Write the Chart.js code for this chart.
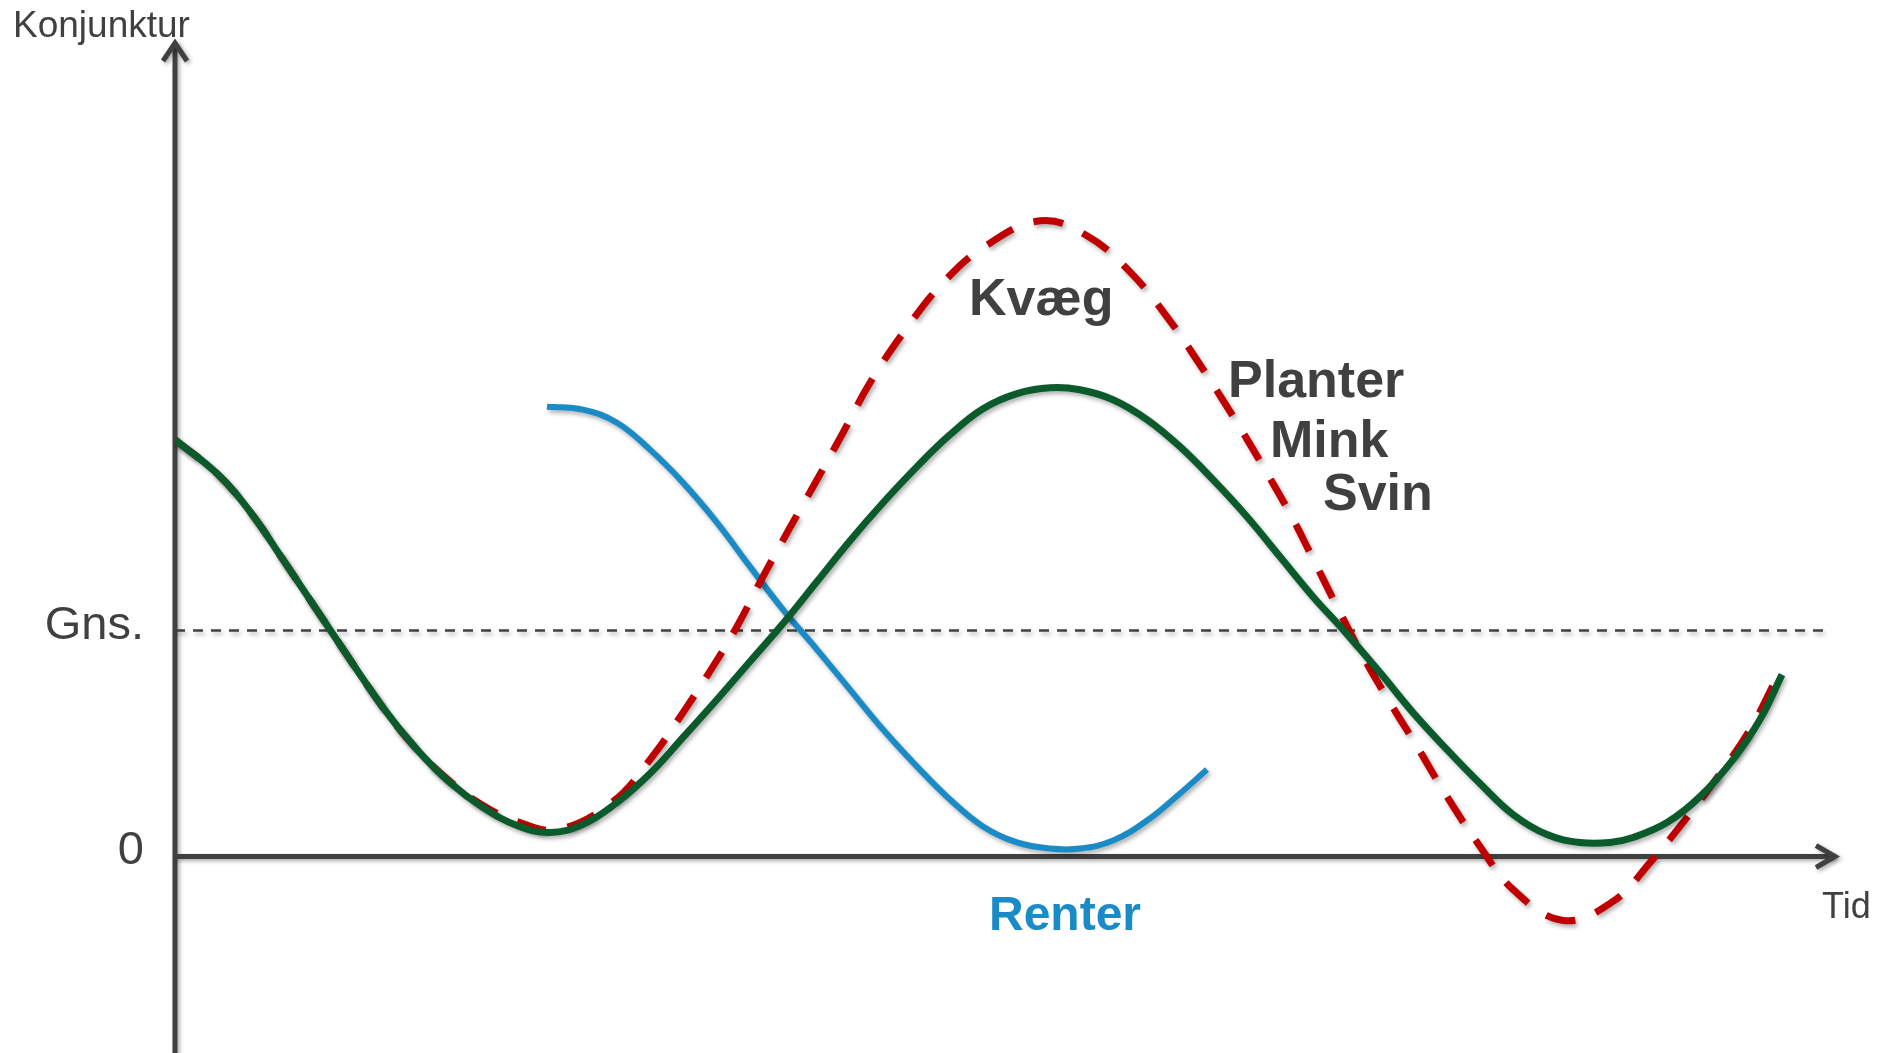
<!DOCTYPE html>
<html lang="da">
<head>
<meta charset="utf-8">
<title>Konjunktur</title>
<script src="https://cdn.jsdelivr.net/npm/chart.js@4/dist/chart.umd.min.js"></script>
<style>
  html, body { margin: 0; padding: 0; background: #ffffff; }
  canvas { display: block; }
</style>
</head>
<body>
<canvas id="chart" width="1881" height="1053"></canvas>
<script>
// Tid (x) og konjunktur (y); "Gns." ligger på 100, nul på 0.
const planterTid = [0, 4.2, 7.5, 10.8, 15.5, 20.8, 24.2, 27.5, 30.8, 34.2, 37.5, 40.8, 44.2, 47.5, 50.8, 54.2, 57.5, 60.8, 64.2, 67.5, 70.8, 74.2, 77.5, 80.8, 84.2, 87.5, 90.5, 93.8, 97.2, 100.5, 103.8, 107.2, 110.5, 113.8, 116.8, 120.5, 123.8, 127.2, 130.5, 133.8, 137.2, 140.5, 143.5, 145.8, 149.2, 152.5, 155.8, 158.5, 160.7];
const planterNiveau = [184.5, 169.5, 152.7, 131.4, 100.4, 65.9, 47.3, 32.7, 21.7, 13.7, 10.6, 14.2, 23.9, 36.7, 52.7, 69.5, 86.3, 103.1, 121.7, 139.8, 156.6, 172.6, 186.7, 198.2, 204.9, 207.5, 206.6, 202.2, 193.4, 181.4, 166.8, 150.4, 132.7, 115.0, 100.4, 81.4, 63.7, 47.3, 32.3, 18.6, 9.7, 6.2, 6.2, 8.4, 15.0, 26.5, 42.9, 60.6, 80.5];

const kvaegTid = [0, 4.2, 7.5, 10.8, 15.5, 20.8, 24.2, 27.5, 30.8, 34.2, 38.2, 43.8, 47.5, 50.8, 53.8, 56.2, 58.8, 61.5, 64.2, 66.8, 69.5, 73.2, 76.8, 80.8, 86.5, 91.2, 95.5, 99.2, 102.5, 106.2, 109.0, 111.5, 113.5, 116.2, 118.8, 121.5, 124.2, 127.2, 130.5, 133.8, 138.8, 143.8, 147.5, 151.2, 154.5, 157.5, 160.5];
const kvaegNiveau = [184.5, 169.5, 152.7, 131.4, 100.4, 65.9, 47.3, 33.2, 22.6, 15.5, 11.9, 24.3, 42.9, 63.7, 84.1, 101.8, 123.9, 145.6, 166.8, 187.6, 209.7, 234.1, 254.0, 269.5, 281.4, 274.8, 258.8, 238.9, 217.7, 192.0, 171.2, 151.8, 134.5, 110.6, 88.5, 68.1, 48.7, 26.5, 4.4, -14.6, -28.3, -19.9, -2.7, 17.3, 36.7, 56.2, 81.9];

const renterTid = [37.2, 40.8, 44.2, 47.5, 50.8, 54.2, 57.5, 60.8, 64.2, 67.5, 70.8, 74.2, 77.5, 80.8, 84.2, 87.5, 90.5, 93.8, 97.2, 100.5, 103.2];
const renterNiveau = [199.1, 197.8, 192.0, 180.1, 165.5, 147.8, 128.3, 109.3, 91.6, 73.9, 56.2, 39.8, 25.2, 13.3, 6.2, 3.5, 3.5, 7.1, 15.9, 27.9, 38.5];

const gnsTid = [0, 164.9];
const gnsNiveau = [100, 100];

const yTickValues = [0, 100];
const yTickLabels = ['0', 'Gns.'];

const zip = (xs, ys) => xs.map((x, i) => ({ x: x, y: ys[i] }));

const FONT = "'Liberation Sans', Arial, Helvetica, sans-serif";
const INK = '#404040';

// Akser med pile, aksetitler og kurvenavne
const decorations = {
  id: 'decorations',
  beforeDatasetsDraw(chart) {
    const { ctx, chartArea, scales } = chart;
    const x0 = scales.x.getPixelForValue(0);
    const y0 = scales.y.getPixelForValue(0);
    const top = chartArea.top;
    const right = chartArea.right;
    ctx.save();
    ctx.strokeStyle = INK;
    ctx.lineWidth = 5;
    ctx.lineJoin = 'miter';
    ctx.lineCap = 'butt';
    ctx.shadowColor = 'rgba(0,0,0,0.35)';
    ctx.shadowBlur = 4;
    ctx.shadowOffsetX = 2;
    ctx.shadowOffsetY = 2;
    // lodret akse
    ctx.beginPath();
    ctx.moveTo(x0, chart.height + 5);
    ctx.lineTo(x0, top + 3);
    ctx.stroke();
    ctx.beginPath();
    ctx.moveTo(x0 - 12, top + 20);
    ctx.lineTo(x0, top + 2);
    ctx.lineTo(x0 + 12, top + 20);
    ctx.stroke();
    // vandret akse
    ctx.beginPath();
    ctx.moveTo(x0, y0);
    ctx.lineTo(right - 3, y0);
    ctx.stroke();
    ctx.beginPath();
    ctx.moveTo(right - 21, y0 - 11);
    ctx.lineTo(right - 2, y0);
    ctx.lineTo(right - 21, y0 + 11);
    ctx.stroke();
    ctx.restore();
  },
  afterDatasetsDraw(chart) {
    const { ctx, chartArea, scales } = chart;
    const px = v => scales.x.getPixelForValue(v);
    const py = v => scales.y.getPixelForValue(v);
    ctx.save();
    ctx.textAlign = 'left';
    ctx.textBaseline = 'alphabetic';
    ctx.fillStyle = INK;
    ctx.font = '37px ' + FONT;
    ctx.fillText('Konjunktur', px(0) - 162, chartArea.top - 4);
    ctx.font = '36px ' + FONT;
    ctx.fillText('Tid', chartArea.right - 15, py(0) + 62);

    ctx.font = 'bold 52px ' + FONT;
    ctx.fillText('Kvæg', px(79.4), py(239.8));
    ctx.fillText('Planter', px(105.3), py(203.5));
    ctx.fillText('Mink', px(109.5), py(177.0));
    ctx.fillText('Svin', px(114.8), py(153.5));

    ctx.fillStyle = '#1a8bc7';
    ctx.font = 'bold 48px ' + FONT;
    ctx.fillText('Renter', px(81.4), py(-32.7));
    ctx.restore();
  },
  beforeDatasetDraw(chart, args) {
    const ds = chart.data.datasets[args.index];
    chart.ctx.save();
    if (ds.shadow) {
      chart.ctx.shadowColor = 'rgba(0,0,0,0.3)';
      chart.ctx.shadowBlur = 4;
      chart.ctx.shadowOffsetX = 2;
      chart.ctx.shadowOffsetY = 3;
    }
  },
  afterDatasetDraw(chart) {
    chart.ctx.restore();
  }
};

new Chart(document.getElementById('chart'), {
  type: 'line',
  data: {
    datasets: [
      {
        label: 'Planter, Mink, Svin',
        data: zip(planterTid, planterNiveau),
        borderColor: '#0b5a2c',
        borderWidth: 7,
        shadow: true
      },
      {
        label: 'Kvæg',
        data: zip(kvaegTid, kvaegNiveau),
        borderColor: '#c00000',
        borderWidth: 7,
        borderDash: [30, 22],
        borderCapStyle: 'butt',
        shadow: true
      },
      {
        label: 'Renter',
        data: zip(renterTid, renterNiveau),
        borderColor: '#1a8bc7',
        borderWidth: 6,
        shadow: true
      },
      {
        label: 'Gns.',
        data: zip(gnsTid, gnsNiveau),
        borderColor: INK,
        borderWidth: 2.5,
        borderDash: [10, 8],
        tension: 0,
        shadow: true
      }
    ]
  },
  options: {
    responsive: false,
    devicePixelRatio: 1,
    animation: false,
    layout: { padding: { left: 0, top: 41, right: 44, bottom: 0 } },
    elements: {
      point: { radius: 0, hoverRadius: 0 },
      line: { tension: 0.4, fill: false }
    },
    plugins: {
      legend: { display: false },
      tooltip: { enabled: false }
    },
    events: [],
    scales: {
      x: {
        type: 'linear',
        min: 0,
        max: 166.2,
        display: false
      },
      y: {
        type: 'linear',
        min: -87,
        max: 361,
        grid: { display: false, drawTicks: false },
        border: { display: false },
        ticks: {
          font: { family: FONT, size: 47 },
          color: INK,
          padding: 31,
          labelOffset: -5,
          callback: (value) => {
            const i = yTickValues.indexOf(value);
            return i >= 0 ? yTickLabels[i] : '';
          }
        },
        afterBuildTicks: (scale) => {
          scale.ticks = yTickValues.map(v => ({ value: v }));
        },
        afterFit: (scale) => {
          scale.width = 175;
          scale.paddingTop = 0;
          scale.paddingBottom = 0;
        }
      }
    }
  },
  plugins: [decorations]
});
</script>
</body>
</html>
